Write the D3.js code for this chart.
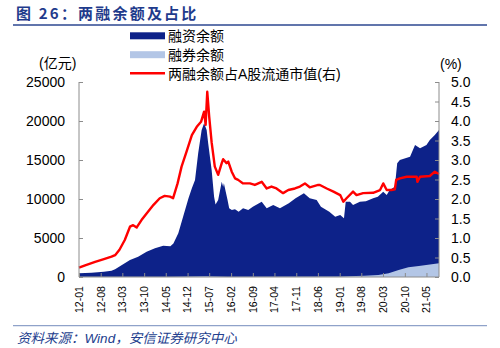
<!DOCTYPE html>
<html><head><meta charset="utf-8">
<script src="https://cdn.jsdelivr.net/npm/d3@7"></script>
<style>
body{margin:0;background:#fff;}
svg{display:block;}
</style></head>
<body><svg id="c" width="500" height="348"></svg>
<script>
// ---- DATA ----
const xTickLabels = ["12-01","12-08","13-03","13-10","14-05","14-12","15-07","16-02","16-09","17-04","17-11","18-06","19-01","19-08","20-03","20-10","21-05"];
const leftTicks = [0,5000,10000,15000,20000,25000];
const rightTicks = [0.0,0.5,1.0,1.5,2.0,2.5,3.0,3.5,4.0,4.5,5.0];

// 融资余额 (亿元)
const finDates = ["2012-01-01","2012-05-03","2012-09-01","2012-11-15","2012-12-20","2013-02-25","2013-05-15","2013-08-03","2013-10-25","2014-01-15","2014-04-06","2014-06-15","2014-07-15","2014-09-01","2014-10-18","2014-12-10","2015-01-12","2015-02-12","2015-03-15","2015-04-18","2015-05-12","2015-06-06","2015-06-21","2015-07-25","2015-08-18","2015-09-01","2015-09-27","2015-11-01","2015-11-15","2015-11-22","2015-12-28","2016-01-13","2016-02-08","2016-03-10","2016-04-15","2016-05-28","2016-07-18","2016-09-01","2016-11-27","2017-01-15","2017-03-20","2017-05-25","2017-08-20","2017-10-25","2018-01-15","2018-03-13","2018-05-20","2018-07-01","2018-09-21","2018-11-18","2019-01-06","2019-02-12","2019-03-01","2019-04-12","2019-05-12","2019-07-18","2019-09-15","2019-11-25","2020-01-10","2020-03-03","2020-04-06","2020-05-06","2020-06-25","2020-07-18","2020-08-13","2020-11-21","2021-01-09","2021-02-27","2021-05-01","2021-06-03","2021-07-22","2021-09-01"];
const finValues = [480,550,680,800,990,1540,2180,2600,3240,3680,4010,3950,4300,5600,7730,10090,11370,12440,15860,18850,19700,18850,17140,13720,10300,9300,9870,12220,11580,12010,9870,8810,8590,8680,8370,8810,8590,9010,9650,8810,9230,8810,9450,10090,10730,10090,9870,9010,8370,7730,7950,7520,9650,9650,9230,9650,9700,10090,10300,10940,10510,11150,11580,14570,15000,15430,16920,16500,16920,17560,18200,18850];

// 融券余额 (亿元)
const secDates = ["2012-01-01","2014-06-01","2015-06-01","2016-01-01","2019-01-01","2019-09-01","2020-01-15","2020-04-25","2020-08-01","2020-11-05","2021-02-15","2021-09-01"];
const secValues = [20,30,90,40,60,150,256,470,900,1240,1410,1750];

// 两融余额占A股流通市值 (%)
const pctDates = ["2012-01-01","2012-03-01","2012-06-07","2012-09-01","2012-11-15","2012-12-20","2013-02-01","2013-03-25","2013-05-15","2013-06-15","2013-07-20","2013-09-05","2013-10-25","2014-01-01","2014-03-03","2014-04-20","2014-06-12","2014-07-12","2014-08-25","2014-10-03","2014-11-20","2015-01-12","2015-03-01","2015-04-12","2015-05-12","2015-05-27","2015-06-12","2015-07-01","2015-07-25","2015-08-25","2015-09-27","2015-11-01","2015-11-15","2015-12-18","2016-01-04","2016-02-07","2016-03-10","2016-04-10","2016-05-28","2016-08-03","2016-09-21","2016-11-27","2017-01-15","2017-03-03","2017-04-21","2017-06-25","2017-08-15","2017-10-19","2017-12-07","2018-01-25","2018-03-13","2018-06-04","2018-06-21","2018-08-27","2018-11-01","2019-01-06","2019-02-06","2019-03-09","2019-05-12","2019-06-15","2019-08-19","2019-11-25","2020-02-01","2020-03-03","2020-04-06","2020-05-24","2020-06-25","2020-07-08","2020-08-13","2020-10-19","2021-01-25","2021-02-01","2021-02-27","2021-06-03","2021-07-22","2021-09-01"];
const pctValues = [0.24,0.30,0.39,0.46,0.52,0.56,0.70,0.95,1.29,1.33,1.27,1.46,1.63,1.85,2.02,2.08,2.06,2.02,2.40,2.83,3.21,3.64,3.85,3.98,4.24,3.90,4.75,4.11,3.45,2.83,2.62,2.92,3.02,2.92,2.96,2.70,2.53,2.49,2.40,2.40,2.36,2.44,2.27,2.32,2.27,2.15,2.23,2.27,2.32,2.40,2.30,2.36,2.36,2.27,2.19,2.10,1.93,2.02,2.19,2.10,2.15,2.16,2.23,2.40,2.23,2.23,2.25,2.49,2.53,2.57,2.57,2.44,2.57,2.59,2.70,2.64];

// ---- CHART ----
const svg = d3.select("#c");
const parse = d3.timeParse("%Y-%m-%d");
const parseTick = d3.timeParse("%y-%m");
const L = 79, R = 439, T = 82, B = 277;
const x = d3.scaleTime().domain([parse("2012-01-01"), parse("2021-09-01")]).range([L, R]);
const yL = d3.scaleLinear().domain([0,25000]).range([B, T]);
const yR = d3.scaleLinear().domain([0,5]).range([B, T]);

const fin = finDates.map((d,i)=>({d:parse(d), v:finValues[i]}));
const sec = secDates.map((d,i)=>({d:parse(d), v:secValues[i]}));
const pct = pctDates.map((d,i)=>({d:parse(d), v:pctValues[i]}));

const num = "'Liberation Sans', Arial, sans-serif";
const cjk = "'Liberation Sans', 'Noto Sans CJK SC', sans-serif";

// title
svg.append("text").attr("x",16).attr("y",19).attr("fill","#1f3b8c")
  .attr("font-family","'Noto Sans CJK SC', sans-serif").attr("font-weight","bold")
  .attr("font-size",15).attr("letter-spacing","2.2px").text("图 26：两融余额及占比");
svg.append("line").attr("x1",13).attr("x2",487).attr("y1",25).attr("y2",25)
  .attr("stroke","#2c4790").attr("stroke-width",1.5);

// areas
const area = y => d3.area().x(d=>x(d.d)).y0(B).y1(d=>y(d.v));
svg.append("path").datum(fin).attr("d", area(yL)).attr("fill","#0d2289");
svg.append("path").datum(sec).attr("d", area(yL)).attr("fill","#b3c6e6");
// line
svg.append("path").datum(pct).attr("d", d3.line().x(d=>x(d.d)).y(d=>yR(d.v)))
  .attr("fill","none").attr("stroke","#ff0000").attr("stroke-width",2.4).attr("stroke-linejoin","round");

// axes
const axCol = "#8c8c8c";
const gL = svg.append("g").attr("transform",`translate(${L},0)`)
  .call(d3.axisRight(yL).tickValues(leftTicks).tickSize(4).tickFormat(""));
const gR = svg.append("g").attr("transform",`translate(${R},0)`)
  .call(d3.axisLeft(yR).tickValues(rightTicks).tickSize(4).tickFormat(""));
const gB = svg.append("g").attr("transform",`translate(0,${B})`)
  .call(d3.axisTop(x).tickValues(xTickLabels.map(s=>parseTick(s))).tickSize(4).tickFormat(""));
[gL,gR,gB].forEach(g=>{ g.selectAll("path,line").attr("stroke",axCol); });
gL.select(".domain").attr("d",`M0,${T}V${B}`);
gR.select(".domain").attr("d",`M0,${T}V${B}`);
gB.select(".domain").attr("d",`M${L},0H${R}`);

// tick labels
svg.append("g").selectAll("text").data(leftTicks).join("text")
  .attr("x",65).attr("y",d=>yL(d)).attr("dy","0.36em").attr("text-anchor","end")
  .attr("font-family",num).attr("font-size",14).attr("fill","#000").text(d=>d);
svg.append("g").selectAll("text").data(rightTicks).join("text")
  .attr("x",451).attr("y",d=>yR(d)).attr("dy","0.36em").attr("text-anchor","start")
  .attr("font-family",num).attr("font-size",14).attr("fill","#000").text(d=>d.toFixed(1));
svg.append("g").selectAll("text").data(xTickLabels).join("text")
  .attr("transform",s=>`translate(${x(parseTick(s))},286) rotate(-90)`)
  .attr("dy","0.36em").attr("text-anchor","end")
  .attr("font-family",num).attr("font-size",10.6).attr("fill","#000").text(s=>s);

// unit labels
svg.append("text").attr("x",39).attr("y",68).attr("font-family",cjk).attr("font-size",14).attr("fill","#000").text("(亿元)");
svg.append("text").attr("x",440).attr("y",69).attr("font-family",cjk).attr("font-size",14).attr("fill","#000").text("(%)");

// legend
const leg = svg.append("g");
leg.append("rect").attr("x",130).attr("y",32.3).attr("width",35).attr("height",7).attr("fill","#0d2289");
leg.append("rect").attr("x",130).attr("y",51.2).attr("width",35).attr("height",7).attr("fill","#b3c6e6");
leg.append("line").attr("x1",130).attr("x2",165).attr("y1",73.3).attr("y2",73.3).attr("stroke","#ff0000").attr("stroke-width",2.4);
const legTexts = ["融资余额","融券余额","两融余额占A股流通市值(右)"];
leg.selectAll("text").data(legTexts).join("text")
  .attr("x",168).attr("y",(d,i)=>36+i*19).attr("dy","0.36em")
  .attr("font-family",cjk).attr("font-size",14).attr("fill","#000").text(d=>d);

// bottom
svg.append("line").attr("x1",13).attr("x2",487).attr("y1",325.7).attr("y2",325.7)
  .attr("stroke","#8fa2c9").attr("stroke-width",1.2);
svg.append("text").attr("x",17).attr("y",343).attr("fill","#23408e")
  .attr("font-family",cjk).attr("font-style","italic").attr("font-size",13.5)
  .text("资料来源：Wind，安信证券研究中心");
</script></body></html>
